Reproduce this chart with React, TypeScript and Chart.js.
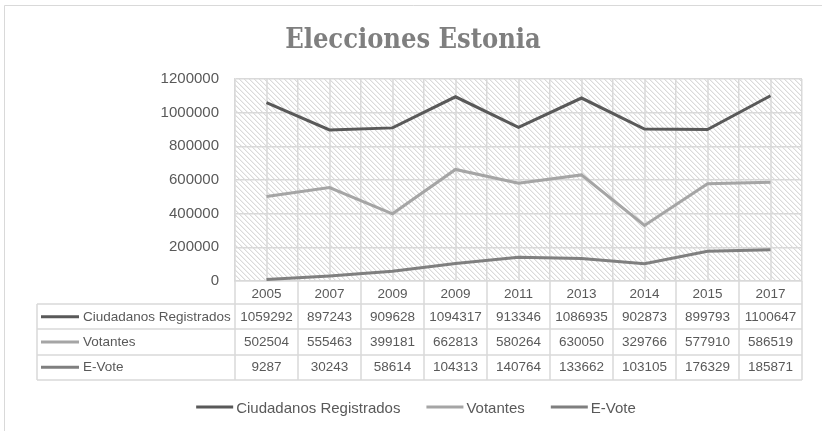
import React, { useEffect, useRef } from 'react';
import { Chart, registerables } from 'chart.js';

Chart.register(...registerables);

const TITLE = 'Elecciones Estonia';
const YEARS = ['2005', '2007', '2009', '2009', '2011', '2013', '2014', '2015', '2017'];
const CIUDADANOS = [1059292, 897243, 909628, 1094317, 913346, 1086935, 902873, 899793, 1100647];
const VOTANTES = [502504, 555463, 399181, 662813, 580264, 630050, 329766, 577910, 586519];
const EVOTE = [9287, 30243, 58614, 104313, 140764, 133662, 103105, 176329, 185871];
const SERIES_NAMES = ['Ciudadanos Registrados', 'Votantes', 'E-Vote'];
const SERIES_COLORS = ['#595959', '#A5A5A5', '#7F7F7F'];
const Y_MAX = 1200000;
const Y_STEP = 200000;

const FONT = '"Liberation Sans", Arial, sans-serif';
const GRID = '#D9D9D9';
const TEXT = '#595959';

function makeHatch(): CanvasPattern | string {
  const c = document.createElement('canvas');
  const n = 5;
  c.width = n;
  c.height = n;
  const g = c.getContext('2d');
  if (!g) return '#fff';
  g.fillStyle = '#ffffff';
  g.fillRect(0, 0, n, n);
  for (let i = 0; i < n; i++) {
    g.fillStyle = '#DADADA';
    g.fillRect(i, i, 1, 1);
    g.fillStyle = '#F0F0F0';
    g.fillRect((i + 1) % n, i, 1, 1);
  }
  const ctx = document.createElement('canvas').getContext('2d');
  return ctx ? (ctx.createPattern(c, 'repeat') as CanvasPattern) : '#fff';
}

const decorPlugin = {
  id: 'decor',
  beforeDraw(chart: any) {
    const { ctx, chartArea: ca, width, height } = chart;
    ctx.save();
    ctx.fillStyle = '#ffffff';
    ctx.fillRect(0, 0, width, height);
    ctx.strokeStyle = GRID;
    ctx.lineWidth = 1;
    ctx.beginPath();
    ctx.moveTo(4.5, height);
    ctx.lineTo(4.5, 5.5);
    ctx.lineTo(width, 5.5);
    ctx.stroke();
    ctx.fillStyle = makeHatch();
    ctx.fillRect(ca.left, ca.top, ca.right - ca.left, ca.bottom - ca.top);
    ctx.restore();
  },
  beforeDatasetsDraw(chart: any) {
    const { ctx, chartArea: ca } = chart;
    const xs = chart.scales.x;
    ctx.save();
    ctx.strokeStyle = GRID;
    ctx.lineWidth = 1.5;
    ctx.beginPath();
    for (let i = 0; i < YEARS.length; i++) {
      const px = Math.round(xs.getPixelForValue(i));
      ctx.moveTo(px, ca.top);
      ctx.lineTo(px, ca.bottom);
    }
    ctx.stroke();
    ctx.restore();
  },
  afterDraw(chart: any) {
    const { ctx, chartArea: ca } = chart;
    const xs = chart.scales.x;
    const datasets = chart.data.datasets;
    const tableLeft = 37;
    const rowTop = 304;
    const rowH = 25.3;
    const nRows = datasets.length;
    const bottom = rowTop + rowH * nRows;
    const colW = (ca.right - ca.left) / YEARS.length;

    ctx.save();
    ctx.strokeStyle = GRID;
    ctx.lineWidth = 1.5;
    ctx.beginPath();
    for (let i = 0; i <= YEARS.length; i++) {
      const px = Math.round(ca.left + i * colW);
      ctx.moveTo(px, ca.bottom);
      ctx.lineTo(px, bottom);
    }
    ctx.moveTo(tableLeft, rowTop);
    ctx.lineTo(tableLeft, bottom);
    for (let r = 0; r <= nRows; r++) {
      const py = Math.round(rowTop + r * rowH);
      ctx.moveTo(tableLeft, py);
      ctx.lineTo(ca.right, py);
    }
    ctx.stroke();

    ctx.font = `13.5px ${FONT}`;
    ctx.textBaseline = 'middle';
    datasets.forEach((ds: any, r: number) => {
      const cy = rowTop + r * rowH + rowH / 2;
      ctx.strokeStyle = ds.borderColor;
      ctx.lineWidth = 3;
      ctx.beginPath();
      ctx.moveTo(41, cy);
      ctx.lineTo(79, cy);
      ctx.stroke();
      ctx.fillStyle = TEXT;
      ctx.textAlign = 'left';
      ctx.fillText(ds.label, 83, cy + 0.5);
      ctx.textAlign = 'center';
      ds.data.forEach((v: number, i: number) => {
        ctx.fillText(String(v), xs.getPixelForValue(i), cy + 0.5);
      });
    });

    ctx.fillStyle = '#7F7F7F';
    ctx.font = `bold 27px "DejaVu Serif Condensed", "DejaVu Serif", serif`;
    ctx.textAlign = 'center';
    ctx.textBaseline = 'alphabetic';
    ctx.fillText(TITLE, 413, 48);

    ctx.font = `15px ${FONT}`;
    ctx.textBaseline = 'middle';
    ctx.textAlign = 'left';
    const keyW = 37;
    const keyGap = 3;
    const itemGap = 26;
    const items = datasets.map((ds: any) => ({
      label: ds.label,
      color: ds.borderColor,
      w: keyW + keyGap + ctx.measureText(ds.label).width,
    }));
    const total = items.reduce((s: number, it: any) => s + it.w, 0) + itemGap * (items.length - 1);
    let lx = 416 - total / 2;
    const ly = 408;
    items.forEach((it: any) => {
      ctx.strokeStyle = it.color;
      ctx.lineWidth = 3;
      ctx.beginPath();
      ctx.moveTo(lx, ly - 1);
      ctx.lineTo(lx + keyW, ly - 1);
      ctx.stroke();
      ctx.fillStyle = TEXT;
      ctx.fillText(it.label, lx + keyW + keyGap, ly + 1);
      lx += it.w + itemGap;
    });
    ctx.restore();
  },
};

export default function App() {
  const ref = useRef<HTMLCanvasElement | null>(null);

  useEffect(() => {
    document.body.style.margin = '0';
    const canvas = ref.current;
    if (!canvas) return;
    const series = [CIUDADANOS, VOTANTES, EVOTE];
    const chart = new Chart(canvas, {
      type: 'line',
      data: {
        labels: YEARS,
        datasets: series.map((d, i) => ({
          label: SERIES_NAMES[i],
          data: d,
          borderColor: SERIES_COLORS[i],
          backgroundColor: SERIES_COLORS[i],
          borderWidth: 3,
          pointRadius: 0,
          tension: 0,
          fill: false,
        })),
      },
      options: {
        responsive: false,
        animation: false,
        devicePixelRatio: 1,
        layout: { padding: { left: 0, right: 20, top: 79, bottom: 0 } },
        plugins: {
          legend: { display: false },
          title: { display: false },
          tooltip: { enabled: false },
        },
        scales: {
          x: {
            type: 'category',
            offset: true,
            grid: { offset: true, color: GRID, lineWidth: 1.5, drawTicks: false },
            border: { display: true, color: GRID, width: 1.5 },
            ticks: {
              color: TEXT,
              font: { size: 13.5, family: FONT },
              padding: 5,
              maxRotation: 0,
              autoSkip: false,
            },
            afterFit: (s: any) => {
              s.height = 150;
            },
          },
          y: {
            min: 0,
            max: Y_MAX,
            grid: { color: GRID, lineWidth: 1.5, drawTicks: false },
            border: { display: true, color: GRID, width: 1.5 },
            ticks: {
              stepSize: Y_STEP,
              color: TEXT,
              font: { size: 15, family: FONT },
              padding: 16,
              callback: (v: any) => String(v),
            },
            afterFit: (s: any) => {
              s.width = 235;
            },
          },
        },
      } as any,
      plugins: [decorPlugin],
    });
    return () => chart.destroy();
  }, []);

  return (
    <div style={{ width: 822, height: 431 }}>
      <canvas ref={ref} width={822} height={431} style={{ display: 'block' }} />
    </div>
  );
}
